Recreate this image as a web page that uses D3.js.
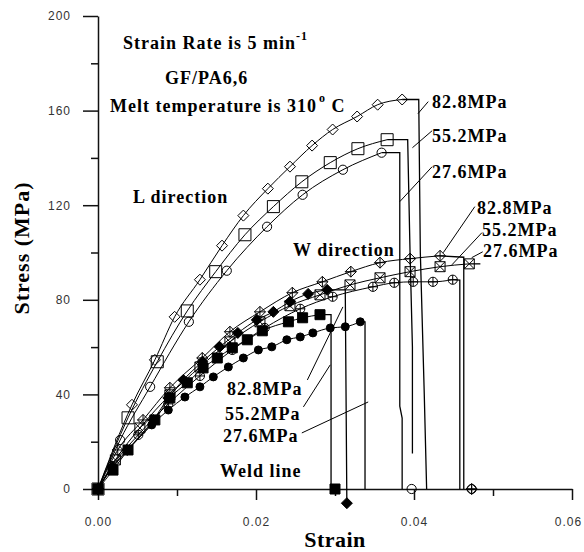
<!DOCTYPE html>
<html lang="en">
<head>
<meta charset="UTF-8">
<title>GF/PA6,6 stress-strain</title>
<style>
    body { margin: 0; background: #fff; }
    svg text { font-family: "Liberation Serif", "Times New Roman", serif; }
</style>
</head>
<body>
<script src="https://d3js.org/d3.v7.min.js"></script>
<script>
    // axis ticks
    const xTicks = [0, 0.02, 0.04, 0.06];
    const xMinor = [0.01, 0.03, 0.05];
    const yTicks = [0, 40, 80, 120, 160, 200];
    const yMinor = [20, 60, 100, 140, 180];

    // L direction
    const L828_strain = [0, 0.0043, 0.0072, 0.0097, 0.0129, 0.0157, 0.0184, 0.0215, 0.0243, 0.0271, 0.0297, 0.0328, 0.0354, 0.0385];
    const L828_stress = [0, 35.6, 54.6, 72.8, 88.5, 102.9, 115.6, 127.0, 136.3, 145.2, 152.0, 157.5, 162.5, 164.7];
    const L828_tail = [[0.0406, 164.7], [0.0408, 100], [0.0413, 40], [0.0416, 0]];
    const L552_strain = [0, 0.0038, 0.0075, 0.0113, 0.0149, 0.0186, 0.0222, 0.0258, 0.0294, 0.0329, 0.0366];
    const L552_stress = [0, 30.1, 53.8, 75.3, 91.9, 107.5, 119.4, 129.9, 138.0, 143.9, 147.7];
    const L552_tail = [[0.0392, 147.7], [0.0395, 100], [0.0398, 60], [0.0398, 15]];
    const L276_strain = [0, 0.0028, 0.0066, 0.0115, 0.0163, 0.0214, 0.0259, 0.0310, 0.0359];
    const L276_stress = [0, 20.7, 43.2, 70.7, 92.3, 110.9, 124.4, 135.0, 142.2];
    const L276_tail = [[0.0382, 142.2], [0.0382, 35], [0.0385, 30], [0.0385, 0]];
    const L276_end = [[0.0397, 0]];

    // W direction
    const W828_strain = [0, 0.0025, 0.0057, 0.0091, 0.0132, 0.0167, 0.0205, 0.0246, 0.0284, 0.0320, 0.0357, 0.0395, 0.0433];
    const W828_stress = [0, 16.5, 29.2, 42.8, 55.4, 66.5, 74.9, 83.0, 87.6, 91.9, 95.7, 97.4, 98.6];
    const W828_tail = [[0.0463, 98.0], [0.0463, 0]];
    const W828_end = [[0.0473, 0]];
    const W552_strain = [0, 0.0022, 0.0053, 0.0091, 0.0129, 0.0167, 0.0205, 0.0243, 0.0281, 0.0319, 0.0357, 0.0395, 0.0433, 0.0470];
    const W552_stress = [0, 12.3, 25.8, 39.8, 51.6, 62.2, 70.7, 77.5, 82.1, 86.3, 89.3, 91.9, 94.0, 95.2];
    const W552_tail = [[0.0484, 95.2]];
    const W276_strain = [0, 0.0018, 0.0051, 0.0089, 0.0129, 0.0170, 0.0211, 0.0256, 0.0297, 0.0348, 0.0375, 0.0399, 0.0424, 0.0449];
    const W276_stress = [0, 9.7, 22.9, 36.0, 47.8, 58.8, 68.1, 76.2, 81.3, 85.5, 87.2, 87.6, 87.6, 88.5];
    const W276_tail = [[0.0458, 88.3], [0.0458, 0]];
    const W276_end = [[0.0473, 0]];

    // Weld line
    const Wd828_strain = [0, 0.0018, 0.0037, 0.0070, 0.0089, 0.0108, 0.0132, 0.0154, 0.0177, 0.0201, 0.0222, 0.0243, 0.0266, 0.0290];
    const Wd828_stress = [0, 9.3, 16.5, 29.2, 38.5, 46.1, 53.8, 60.1, 66.0, 71.5, 74.9, 79.2, 82.5, 84.2];
    const Wd828_tail = [[0.0313, 84.2], [0.0315, -6]];
    const Wd828_end = [[0.0315, -6]];
    const Wd552_strain = [0, 0.0019, 0.0038, 0.0072, 0.0091, 0.0113, 0.0133, 0.0151, 0.0170, 0.0189, 0.0208, 0.0241, 0.0259, 0.0281];
    const Wd552_stress = [0, 8.0, 16.5, 29.2, 38.5, 44.9, 51.2, 55.4, 59.7, 63.1, 66.9, 70.7, 72.4, 73.7];
    const Wd552_tail = [[0.0295, 73.7], [0.0295, 0]];
    const Wd552_end = [[0.0300, 0]];
    const Wd276_strain = [0, 0.0018, 0.0038, 0.0068, 0.0089, 0.0110, 0.0129, 0.0146, 0.0165, 0.0184, 0.0203, 0.0220, 0.0239, 0.0256, 0.0272, 0.0294, 0.0313, 0.0332];
    const Wd276_stress = [0, 8.9, 16.5, 27.1, 33.4, 38.9, 43.2, 47.4, 51.6, 55.4, 58.8, 60.1, 63.1, 64.3, 66.0, 68.1, 68.6, 70.7];
    const Wd276_tail = [[0.0338, 70.7], [0.0338, 0]];

    // pressure labels and their pointer lines (strain, stress)
    const pressures = ["82.8MPa", "55.2MPa", "27.6MPa"];
    const L_pointers = [[[0.0418, 163.8], [0.0405, 158.7]], [[0.0423, 151.5], [0.0398, 144.3]], [[0.0423, 136.3], [0.0382, 121.5]]];
    const W_pointers = [[[0.0477, 119.4], [0.0437, 99.9]], [[0.0486, 108.4], [0.0448, 94.8]], [[0.0487, 100.3], [0.0473, 97.8]]];
    const Wd_pointers = [[[0.0265, 46.1], [0.0310, 77.0]], [[0.0260, 34.7], [0.0294, 52.5]], [[0.0258, 23.7], [0.0342, 36.8]]];

    const series = [
        {strain: L828_strain, stress: L828_stress, tail: L828_tail, end: [], m: "diamond"},
        {strain: L552_strain, stress: L552_stress, tail: L552_tail, end: [], m: "square"},
        {strain: L276_strain, stress: L276_stress, tail: L276_tail, end: L276_end, m: "circle"},
        {strain: W828_strain, stress: W828_stress, tail: W828_tail, end: W828_end, m: "diamondPlus"},
        {strain: W552_strain, stress: W552_stress, tail: W552_tail, end: [], m: "squareX"},
        {strain: W276_strain, stress: W276_stress, tail: W276_tail, end: W276_end, m: "circlePlus"},
        {strain: Wd828_strain, stress: Wd828_stress, tail: Wd828_tail, end: Wd828_end, m: "diamondFill"},
        {strain: Wd552_strain, stress: Wd552_stress, tail: Wd552_tail, end: Wd552_end, m: "squareFill"},
        {strain: Wd276_strain, stress: Wd276_stress, tail: Wd276_tail, end: [], m: "circleFill"}
    ];

    const svg = d3.select("body").append("svg")
        .attr("width", 584)
        .attr("height", 552);

    const x = d3.scaleLinear().domain([0, 0.06]).range([98, 572]);
    const y = d3.scaleLinear().domain([0, 200]).range([489, 16]);

    // axes
    function styleAxis(g) {
        g.attr("font-family", "'Liberation Sans', Arial, sans-serif")
            .attr("font-size", 12);
        g.selectAll(".domain").attr("stroke", "#111").attr("stroke-width", 1.5);
        g.selectAll(".tick line").attr("stroke", "#111").attr("stroke-width", 1.5);
        g.selectAll(".tick text").attr("fill", "#333").style("letter-spacing", "1px")
            .style("font-family", "'Liberation Sans', Arial, sans-serif");
    }
    svg.append("g")
        .attr("transform", "translate(0,489)")
        .call(d3.axisBottom(x).tickValues(xMinor).tickSize(7).tickFormat(""))
        .call(g => g.select(".domain").remove())
        .call(styleAxis);
    svg.append("g")
        .attr("transform", "translate(0,489)")
        .call(d3.axisBottom(x).tickValues(xTicks).tickFormat(d3.format(".2f")).tickSize(11).tickSizeOuter(0).tickPadding(17))
        .call(styleAxis)
        .call(g => g.selectAll(".tick text").filter(d => d === 0.06).attr("dx", -4));
    svg.append("g")
        .attr("transform", "translate(98,0)")
        .call(d3.axisLeft(y).tickValues(yMinor).tickSize(7).tickFormat(""))
        .call(g => g.select(".domain").remove())
        .call(styleAxis);
    svg.append("g")
        .attr("transform", "translate(98,0)")
        .call(d3.axisLeft(y).tickValues(yTicks).tickSize(15).tickSizeOuter(0).tickPadding(12))
        .call(styleAxis);

    // axis titles
    svg.append("text")
        .attr("x", 335).attr("y", 547)
        .attr("text-anchor", "middle")
        .attr("font-size", 22).attr("font-weight", "bold")
        .style("letter-spacing", "0.5px")
        .text("Strain");
    svg.append("text")
        .attr("transform", "translate(29,248) rotate(-90)")
        .attr("text-anchor", "middle")
        .attr("font-size", 22).attr("font-weight", "bold")
        .style("letter-spacing", "1px")
        .text("Stress (MPa)");

    // curves
    const smooth = d3.line().x(d => x(d[0])).y(d => y(d[1])).curve(d3.curveMonotoneX);
    const straight = d3.line().x(d => x(d[0])).y(d => y(d[1]));
    const plot = svg.append("g");
    series.forEach(s => {
        s.pts = s.strain.map((v, i) => [v, s.stress[i]]);
        plot.append("path").attr("d", smooth(s.pts))
            .attr("fill", "none").attr("stroke", "#000").attr("stroke-width", 1);
        plot.append("path").attr("d", straight([s.pts[s.pts.length - 1]].concat(s.tail)))
            .attr("fill", "none").attr("stroke", "#000").attr("stroke-width", 1.3);
    });

    // marker shapes
    function markerPath(type) {
        const p = d3.path();
        const base = type.replace(/Plus|X|Fill/, "");
        const r = {diamond: 5.5, square: type === "square" ? 6 : 5, circle: type === "circleFill" ? 4 : 4.6}[base];
        if (base === "diamond") {
            p.moveTo(0, -r); p.lineTo(r, 0); p.lineTo(0, r); p.lineTo(-r, 0); p.closePath();
        } else if (base === "square") {
            p.rect(-r, -r, 2 * r, 2 * r);
        } else {
            p.moveTo(r, 0); p.arc(0, 0, r, 0, 2 * Math.PI);
        }
        if (type.endsWith("Plus")) {
            p.moveTo(-r, 0); p.lineTo(r, 0); p.moveTo(0, -r); p.lineTo(0, r);
        }
        if (type.endsWith("X")) {
            p.moveTo(-r, -r); p.lineTo(r, r); p.moveTo(r, -r); p.lineTo(-r, r);
        }
        return p.toString();
    }
    series.forEach(s => {
        const filled = s.m.endsWith("Fill");
        plot.selectAll(null)
            .data(s.pts.concat(s.end))
            .enter()
            .append("path")
            .attr("transform", d => "translate(" + x(d[0]) + "," + y(d[1]) + ")")
            .attr("d", markerPath(s.m))
            .attr("fill", filled ? "#000" : "none")
            .attr("stroke", "#000")
            .attr("stroke-width", 1);
    });

    // text annotations
    const bold = (xp, yp, str) => svg.append("text")
        .attr("x", xp).attr("y", yp)
        .attr("font-size", 18).attr("font-weight", "bold")
        .style("letter-spacing", "1px")
        .text(str);

    const t1 = bold(123, 49, "Strain Rate is 5 min");
    t1.append("tspan").attr("dy", -9).attr("font-size", 12).text("-1");
    bold(165, 84, "GF/PA6,6");
    const t3 = bold(110, 112, "Melt temperature is 310");
    t3.append("tspan").attr("dy", -10).attr("dx", 2).attr("font-size", 12).text("o");
    t3.append("tspan").attr("dy", 10).text(" C");
    bold(133, 203, "L direction");
    bold(293, 256, "W direction");
    bold(220, 477, "Weld line");

    const L_pos = [[432, 108], [432, 142], [432, 178]];
    const W_pos = [[477, 214], [482, 236], [483, 257]];
    const Wd_pos = [[227, 395], [225, 420], [223, 442]];
    pressures.forEach((p, i) => {
        bold(L_pos[i][0], L_pos[i][1], p);
        bold(W_pos[i][0], W_pos[i][1], p);
        bold(Wd_pos[i][0], Wd_pos[i][1], p);
    });

    L_pointers.concat(W_pointers, Wd_pointers).forEach(seg => {
        svg.append("path").attr("d", straight(seg))
            .attr("fill", "none").attr("stroke", "#000").attr("stroke-width", 1);
    });
</script>
</body>
</html>
